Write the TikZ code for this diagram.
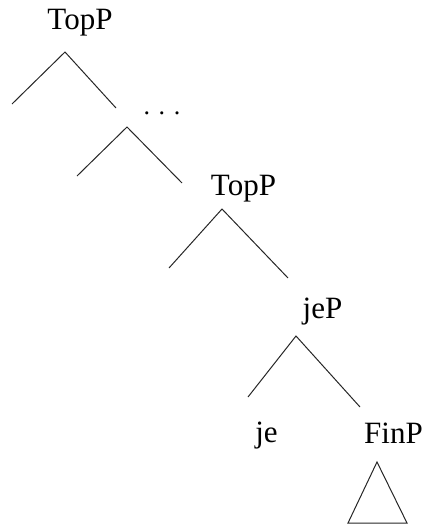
\documentclass[tikz,border=0pt]{standalone}
\usepackage{fontspec}
\setmainfont{Liberation Serif}
\begin{document}
\begin{tikzpicture}[x=1pt,y=-1pt,
  lbl/.style={anchor=base,inner sep=0pt,font=\fontsize{31}{36}\selectfont},
  branch/.style={draw=black!85,line width=1pt,line join=miter}]
\useasboundingbox (0,0) rectangle (424,527);
% labels
\node[lbl] (top1) at (80,30) {TopP};
\node[lbl,font=\fontsize{26}{30}\selectfont] (dots) at (162,114) {. . .};
\node[lbl] (top2) at (243.5,195) {TopP};
\node[lbl] (jep) at (322.5,318) {jeP};
\node[lbl] (je) at (266.5,442) {je};
\node[lbl] (finp) at (393.5,443) {FinP};
% branch points
\coordinate (a1) at (65,52);   \coordinate (l1) at (12,104);  \coordinate (r1) at (116,108);
\coordinate (a2) at (127,127); \coordinate (l2) at (77,176);  \coordinate (r2) at (182,183);
\coordinate (a3) at (222,209); \coordinate (l3) at (169,268); \coordinate (r3) at (288,278);
\coordinate (a4) at (296,336); \coordinate (l4) at (248,397); \coordinate (r4) at (360,407);
\coordinate (t1) at (377,462); \coordinate (t2) at (348,523); \coordinate (t3) at (407,523);
\draw[branch] (l1) -- (a1) -- (r1);
\draw[branch] (l2) -- (a2) -- (r2);
\draw[branch] (l3) -- (a3) -- (r3);
\draw[branch] (l4) -- (a4) -- (r4);
\draw[branch] (t1) -- (t2) -- (t3) -- cycle;
\end{tikzpicture}
\end{document}
